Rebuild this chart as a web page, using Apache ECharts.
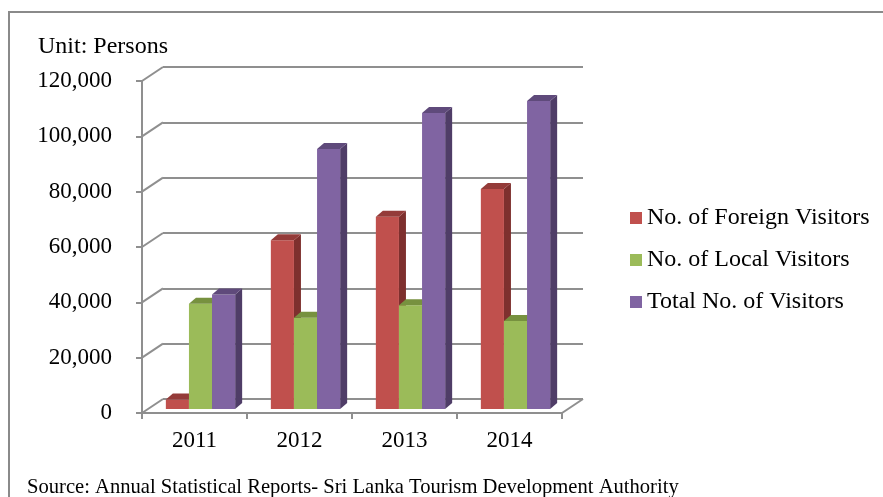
<!DOCTYPE html>
<html>
<head>
<meta charset="utf-8">
<script src="https://cdn.jsdelivr.net/npm/echarts@6/dist/echarts.min.js"></script>
<style>
  html, body { margin: 0; padding: 0; background: #fff; }
  #chart { width: 883px; height: 497px; }
</style>
</head>
<body>
<div id="chart"></div>
<script>
// Visitor counts by year
const years = ['2011', '2012', '2013', '2014'];
const foreignVisitors = [3400, 61000, 69500, 79500];
const localVisitors = [38000, 33000, 37500, 31800];
const totalVisitors = [41400, 94000, 107000, 111300];
const seriesNames = ['No. of Foreign Visitors', 'No. of Local Visitors', 'Total No. of Visitors'];

// Value axis ticks
const yMin = 0, yMax = 120000, yStep = 20000;
const yTicks = [0, 20000, 40000, 60000, 80000, 100000, 120000];

// Face shading: front, top, side
const shades = [
  { front: '#C0504D', top: '#943B39', side: '#7E302E' },
  { front: '#9BBB59', top: '#77913F', side: '#657D35' },
  { front: '#8064A2', top: '#5F4A7B', side: '#4F3D67' }
];

// Depth of the back wall and of each bar box
const wallDX = 21, wallDY = -14;
const barPlaneDX = 6, barPlaneDY = -4;
const boxDX = 7, boxDY = -6;

const font = 'Liberation Serif';
const axisGray = '#8f8f8f';

function fmt(v) {
  return String(v).replace(/\B(?=(\d{3})+(?!\d))/g, ',');
}

function bar3d(seriesIdx) {
  return function (params, api) {
    const cat = api.value(0);
    const val = api.value(1);
    const band = api.size([1, 0])[0];
    const bw = band * 0.22;
    const c = api.coord([cat, val]);
    const b = api.coord([cat, 0]);
    const x = c[0] + barPlaneDX + (seriesIdx - 1.5) * bw;
    const top = c[1] + barPlaneDY;
    const bottom = b[1] + barPlaneDY;
    const s = shades[seriesIdx];
    return {
      type: 'group',
      children: [
        {
          type: 'polygon',
          shape: { points: [[x + bw, top], [x + bw + boxDX, top + boxDY], [x + bw + boxDX, bottom + boxDY], [x + bw, bottom]] },
          style: { fill: s.side }
        },
        {
          type: 'rect',
          shape: { x: x, y: top, width: bw, height: bottom - top },
          style: { fill: s.front }
        },
        {
          type: 'polygon',
          shape: { points: [[x, top], [x + bw, top], [x + bw + boxDX, top + boxDY], [x + boxDX, top + boxDY]] },
          style: { fill: s.top }
        }
      ]
    };
  };
}

const chart = echarts.init(document.getElementById('chart'), null, { renderer: 'canvas' });

const seriesData = [foreignVisitors, localVisitors, totalVisitors];

const option = {
  animation: false,
  color: shades.map(s => s.front),
  title: {
    text: 'Unit: Persons',
    left: 33,
    top: 30,
    textStyle: { fontFamily: font, fontSize: 24, fontWeight: 'normal', color: '#000' }
  },
  legend: {
    orient: 'vertical',
    left: 625,
    top: 201,
    itemWidth: 12,
    itemHeight: 12,
    itemGap: 18,
    icon: 'rect',
    data: seriesNames,
    textStyle: { fontFamily: font, fontSize: 24, color: '#000', lineHeight: 24 }
  },
  graphic: [
    {
      type: 'rect',
      shape: { x: 9, y: 12, width: 900, height: 520 },
      style: { fill: null, stroke: '#8a8a8a', lineWidth: 2 },
      silent: true
    },
    {
      type: 'text',
      left: 27,
      top: 477,
      style: {
        text: 'Source: Annual Statistical Reports- Sri Lanka Tourism Development Authority',
        font: '20.6px "Liberation Serif"',
        fill: '#000'
      }
    }
  ],
  grid: [
    { left: 142, right: 321, top: 81, bottom: 84 },
    { left: 142 + wallDX, right: 321 - wallDX, top: 81 + wallDY, bottom: 84 - wallDY }
  ],
  xAxis: [
    {
      type: 'category',
      gridIndex: 0,
      data: years,
      boundaryGap: true,
      axisLine: { lineStyle: { color: axisGray, width: 2 } },
      axisTick: { show: true, length: 6, lineStyle: { color: axisGray, width: 2 } },
      axisLabel: { margin: 16, fontFamily: font, fontSize: 23, color: '#000' }
    },
    {
      type: 'category',
      gridIndex: 1,
      data: years,
      show: false
    }
  ],
  yAxis: [
    {
      type: 'value',
      gridIndex: 0,
      min: yMin, max: yMax, interval: yStep,
      axisLine: { show: true, lineStyle: { color: axisGray, width: 2 } },
      axisTick: { show: true, length: 6, lineStyle: { color: axisGray, width: 2 } },
      splitLine: { show: false },
      axisLabel: { margin: 30, fontFamily: font, fontSize: 23, color: '#000', formatter: fmt }
    },
    {
      type: 'value',
      gridIndex: 1,
      min: yMin, max: yMax, interval: yStep,
      axisLine: { show: false },
      axisTick: { show: false },
      axisLabel: { show: false },
      splitLine: { show: true, lineStyle: { color: axisGray, width: 2 } }
    }
  ],
  series: [
    {
      // diagonal edges joining the front axis to the back wall
      type: 'custom',
      xAxisIndex: 0,
      yAxisIndex: 0,
      silent: true,
      z: 1,
      data: yTicks.map(v => [0, v]),
      renderItem: function (params, api) {
        const p = api.coord([0, api.value(1)]);
        const cs = params.coordSys;
        const y = p[1];
        const children = [{
          type: 'line',
          shape: { x1: cs.x, y1: y, x2: cs.x + wallDX, y2: y + wallDY },
          style: { stroke: axisGray, lineWidth: 2 }
        }];
        if (api.value(1) === yMin) {
          children.push({
            type: 'line',
            shape: { x1: cs.x + cs.width, y1: y, x2: cs.x + cs.width + wallDX, y2: y + wallDY },
            style: { stroke: axisGray, lineWidth: 2 }
          });
        }
        return { type: 'group', children: children };
      }
    }
  ].concat(seriesData.map((arr, i) => ({
    type: 'custom',
    name: seriesNames[i],
    xAxisIndex: 0,
    yAxisIndex: 0,
    z: 3,
    itemStyle: { color: shades[i].front },
    data: arr.map((v, k) => [k, v]),
    renderItem: bar3d(i)
  })))
};

chart.setOption(option);
</script>
</body>
</html>
